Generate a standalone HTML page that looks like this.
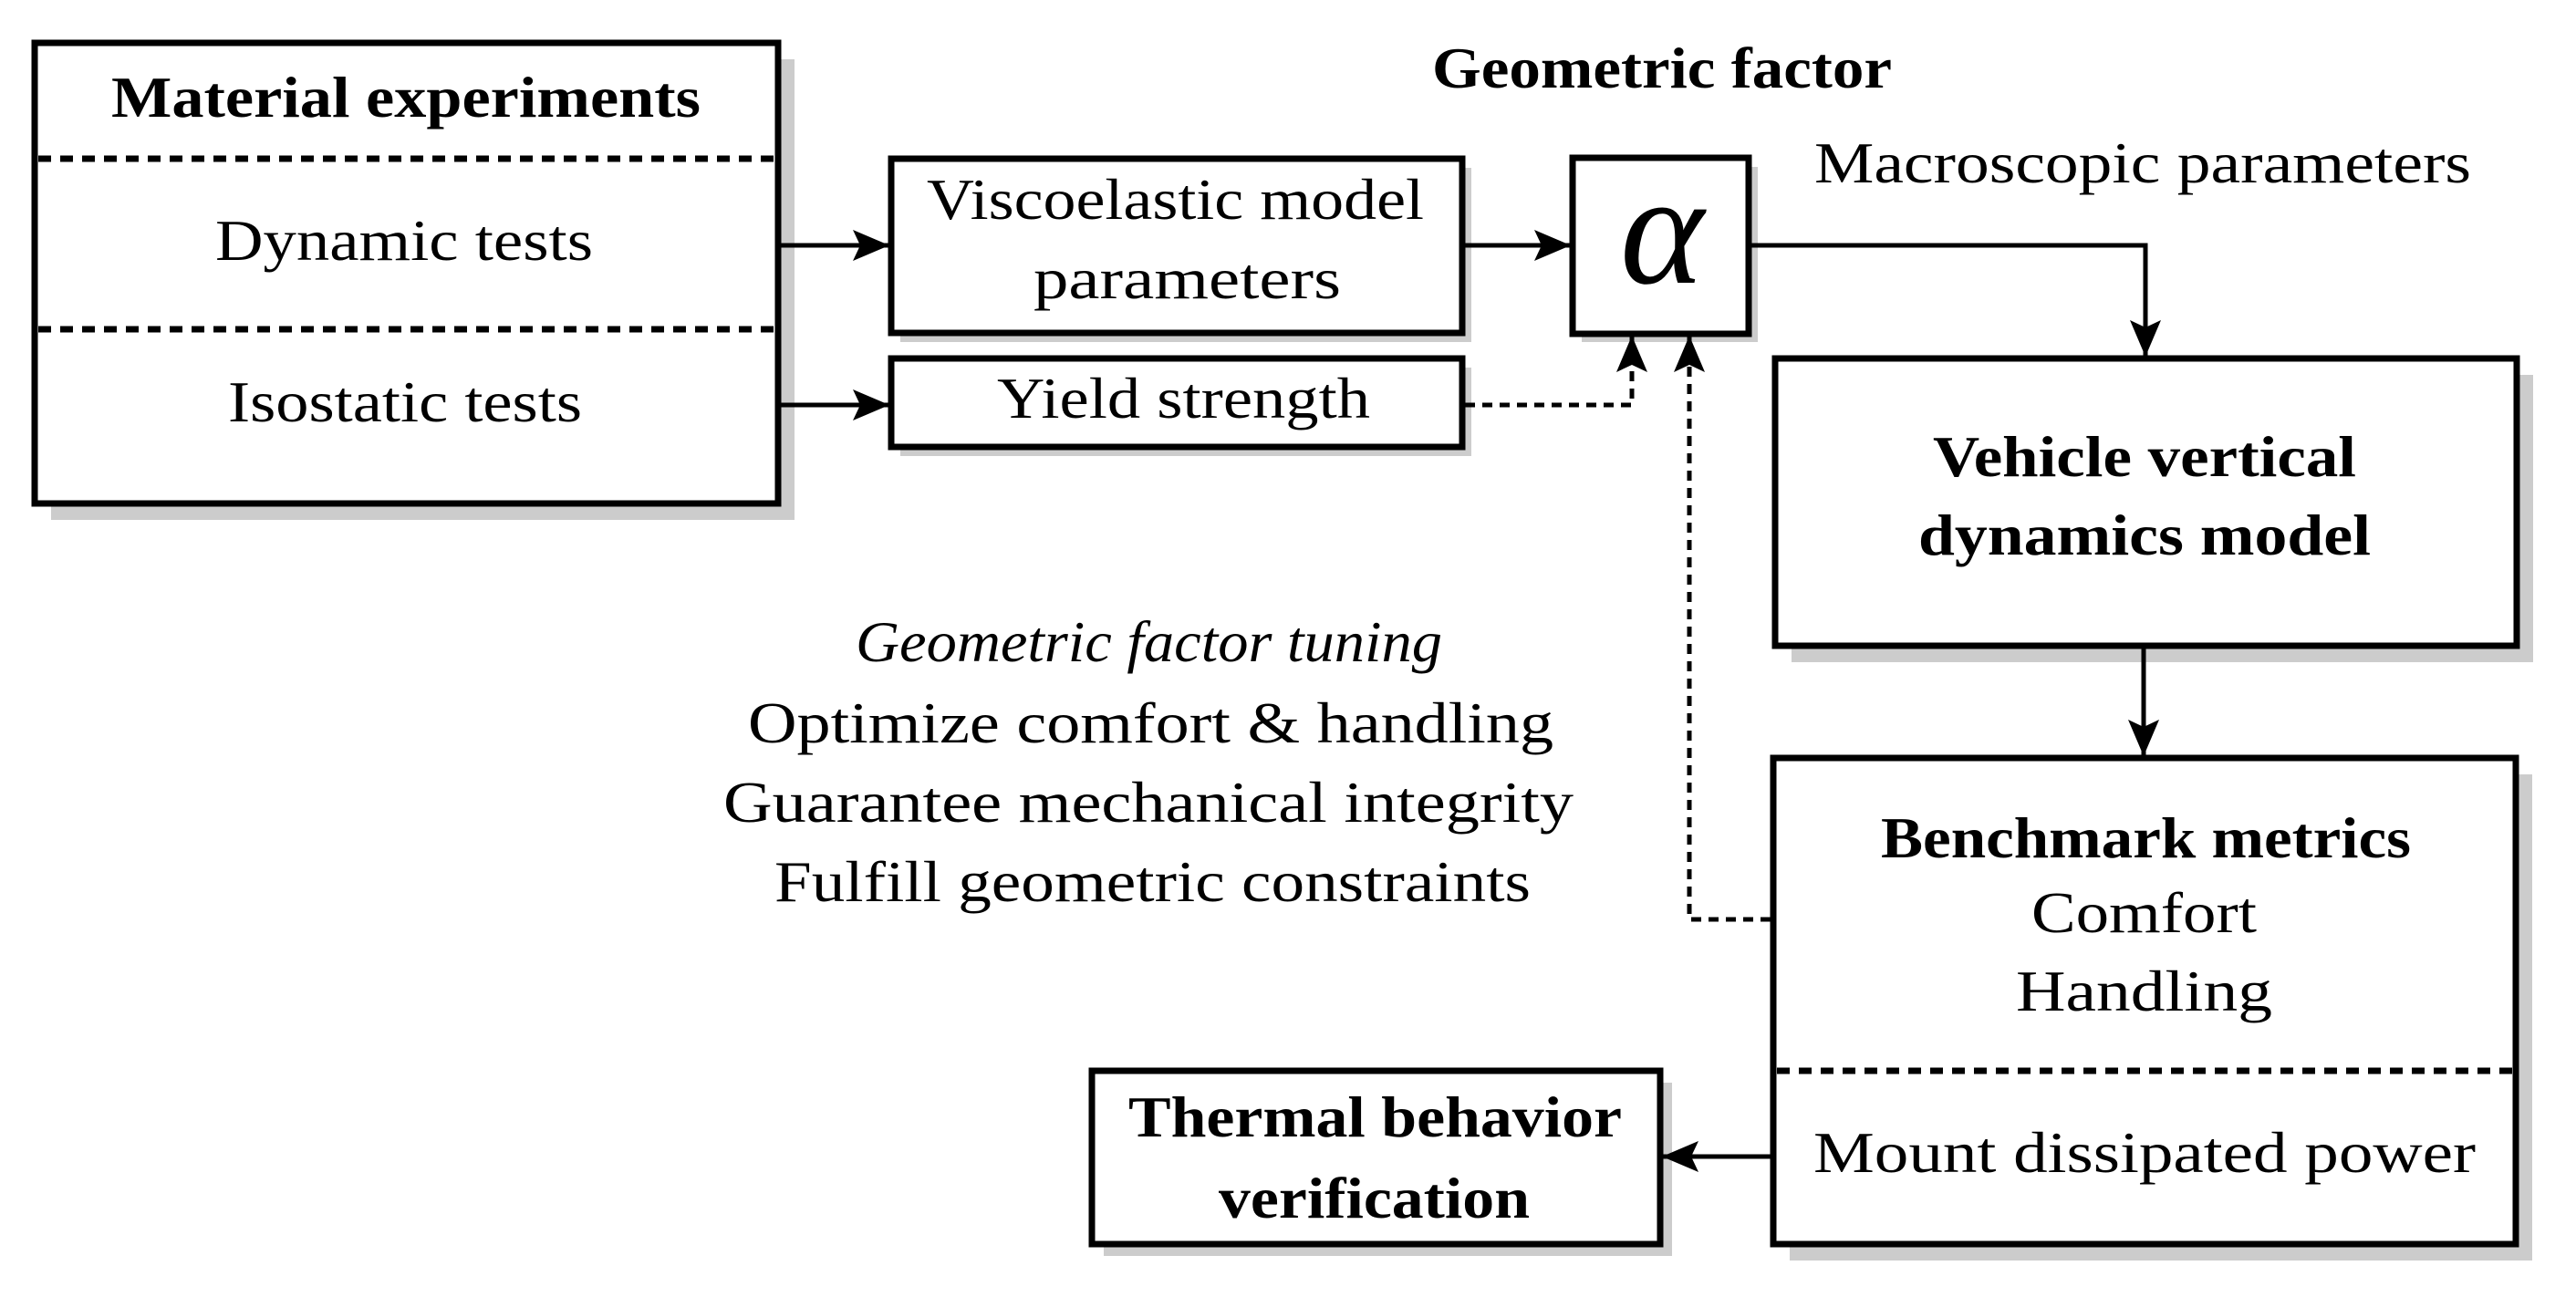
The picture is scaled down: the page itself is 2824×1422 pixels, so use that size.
<!DOCTYPE html>
<html><head><meta charset="utf-8"><style>html,body{margin:0;padding:0;background:#fff}svg{display:block}text{font-family:"Liberation Serif",serif;fill:#000}</style></head>
<body>
<svg width="2824" height="1422" viewBox="0 0 2824 1422" xmlns="http://www.w3.org/2000/svg">
<defs>
<marker id="ah" viewBox="0 0 40 34" refX="40" refY="17" markerWidth="40" markerHeight="34" markerUnits="userSpaceOnUse" orient="auto">
<path d="M0,0 L40,17 L0,34 L8,17 Z" fill="#000"/></marker>
</defs>
<g fill="#cccccc">
<rect x="56" y="65" width="815" height="505"/>
<rect x="987" y="184" width="626" height="191"/>
<rect x="987" y="403" width="626" height="97"/>
<rect x="1734" y="183" width="193" height="192"/>
<rect x="1964" y="411" width="813" height="315"/>
<rect x="1962" y="849" width="814" height="533"/>
<rect x="1210" y="1187" width="623" height="190"/>
</g>
<g fill="#fff" stroke="#000" stroke-width="7">
<rect x="38" y="47" width="815" height="505"/>
<rect x="977" y="174" width="626" height="191"/>
<rect x="977" y="393" width="626" height="97"/>
<rect x="1724" y="173" width="193" height="193"/>
<rect x="1946" y="393" width="813" height="315"/>
<rect x="1944" y="831" width="814" height="533"/>
<rect x="1197" y="1174" width="623" height="190"/>
</g>
<g stroke="#000" stroke-width="7" stroke-dasharray="14 10">
<line x1="42" y1="174" x2="850" y2="174"/>
<line x1="42" y1="361" x2="850" y2="361"/>
<line x1="1948" y1="1174" x2="2755" y2="1174"/>
</g>
<g stroke="#000" stroke-width="5" fill="none">
<line x1="856" y1="269" x2="975" y2="269" marker-end="url(#ah)"/>
<line x1="856" y1="444" x2="975" y2="444" marker-end="url(#ah)"/>
<line x1="1606" y1="269" x2="1722" y2="269" marker-end="url(#ah)"/>
<polyline points="1920,269 2352,269 2352,391" marker-end="url(#ah)"/>
<line x1="2350" y1="711" x2="2350" y2="829" marker-end="url(#ah)"/>
<line x1="1941" y1="1268" x2="1822" y2="1268" marker-end="url(#ah)"/>
</g>
<g stroke="#000" stroke-width="5" fill="none" stroke-dasharray="11 8">
<polyline points="1606,444 1789,444 1789,370"/>
<polyline points="1941,1008 1852,1008 1852,370"/>
</g>
<g stroke="#000" stroke-width="5">
<line x1="1789" y1="400" x2="1789" y2="368" marker-end="url(#ah)"/>
<line x1="1852" y1="400" x2="1852" y2="368" marker-end="url(#ah)"/>
</g>
<g font-size="64">
<text x="122" y="128" font-weight="bold" textLength="646" lengthAdjust="spacingAndGlyphs">Material experiments</text>
<text x="236" y="285" textLength="414" lengthAdjust="spacingAndGlyphs">Dynamic tests</text>
<text x="250" y="462" textLength="388" lengthAdjust="spacingAndGlyphs">Isostatic tests</text>
<text x="1016" y="240" textLength="545" lengthAdjust="spacingAndGlyphs">Viscoelastic model</text>
<text x="1133" y="327" textLength="337" lengthAdjust="spacingAndGlyphs">parameters</text>
<text x="1093" y="458" textLength="409" lengthAdjust="spacingAndGlyphs">Yield strength</text>
<text x="1570" y="96" font-weight="bold" textLength="504" lengthAdjust="spacingAndGlyphs">Geometric factor</text>
<text x="1989" y="200" textLength="720" lengthAdjust="spacingAndGlyphs">Macroscopic parameters</text>
<text x="2119" y="522" font-weight="bold" textLength="464" lengthAdjust="spacingAndGlyphs">Vehicle vertical</text>
<text x="2103" y="608" font-weight="bold" textLength="496" lengthAdjust="spacingAndGlyphs">dynamics model</text>
<text x="2062" y="940" font-weight="bold" textLength="581" lengthAdjust="spacingAndGlyphs">Benchmark metrics</text>
<text x="2227" y="1022" textLength="247" lengthAdjust="spacingAndGlyphs">Comfort</text>
<text x="2210" y="1108" textLength="281" lengthAdjust="spacingAndGlyphs">Handling</text>
<text x="1988" y="1285" textLength="726" lengthAdjust="spacingAndGlyphs">Mount dissipated power</text>
<text x="1237" y="1246" font-weight="bold" textLength="541" lengthAdjust="spacingAndGlyphs">Thermal behavior</text>
<text x="1336" y="1335" font-weight="bold" textLength="341" lengthAdjust="spacingAndGlyphs">verification</text>
<text x="938" y="725" font-style="italic" textLength="643" lengthAdjust="spacingAndGlyphs">Geometric factor tuning</text>
<text x="820" y="814" textLength="883" lengthAdjust="spacingAndGlyphs">Optimize comfort &amp; handling</text>
<text x="793" y="901" textLength="932" lengthAdjust="spacingAndGlyphs">Guarantee mechanical integrity</text>
<text x="849" y="988" textLength="829" lengthAdjust="spacingAndGlyphs">Fulfill geometric constraints</text>
</g>
<text x="1822" y="310" font-size="175" font-style="italic" text-anchor="middle">α</text>
</svg>
</body></html>
